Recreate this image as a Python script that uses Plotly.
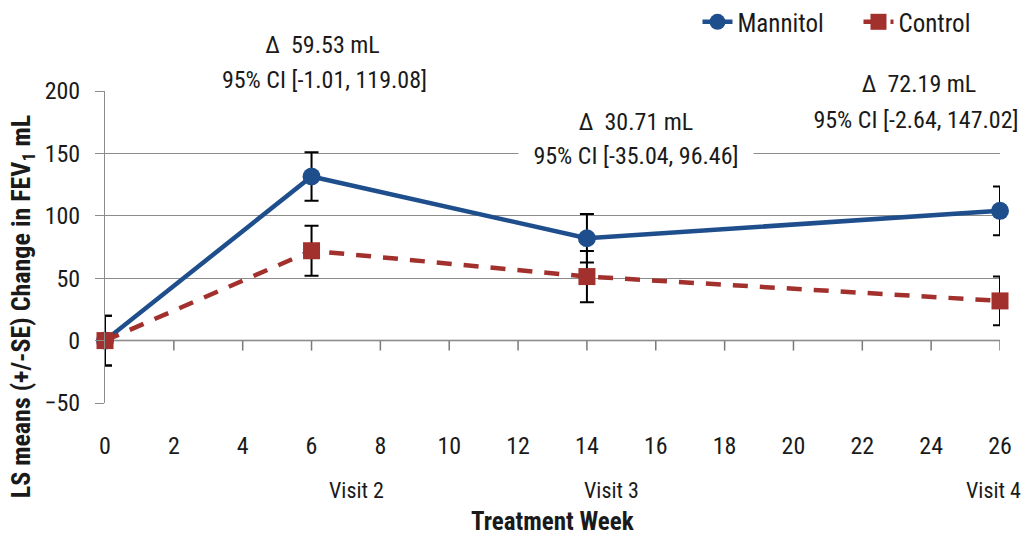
import plotly.graph_objects as go

weeks = [0, 6, 14, 26]
mannitol = [0, 131.5, 82, 104]
mannitol_se = [20, 19.5, 19.5, 19.5]
control = [0, 72, 51.3, 31.8]
control_se = [20, 20, 20.5, 19.5]

x_ticks = list(range(0, 27, 2))
y_ticks = [-50, 0, 50, 100, 150, 200]
visits = ["Visit 2", "Visit 3", "Visit 4"]
visit_pos = [7.3, 14.7, 25.8]

deltas = ["Δ  59.53 mL", "Δ  30.71 mL", "Δ  72.19 mL"]
cis = ["95% CI [-1.01, 119.08]", "95% CI [-35.04, 96.46]", "95% CI [-2.64, 147.02]"]
delta_pos = [(0.2425, 1.147), (0.593, 0.901), (0.909, 1.022)]
ci_pos = [(0.2458, 1.035), (0.593, 0.792), (0.906, 0.907)]
box_w = [255, 232, 222]

FONT = "Roboto Condensed, Carlito, sans-serif"
BLUE = "#1F4E8D"
RED = "#A2302C"
GRID = "#8C8C8C"
TXT = "#1a1a1a"

fig = go.Figure()
fig.add_trace(go.Scatter(
    x=weeks, y=mannitol, name="Mannitol", mode="lines+markers",
    line=dict(color=BLUE, width=4.5),
    marker=dict(symbol="circle", size=18, color=BLUE),
    error_y=dict(type="data", array=mannitol_se, color="black", thickness=2, width=7),
    cliponaxis=False,
))
fig.add_trace(go.Scatter(
    x=weeks, y=control, name="Control", mode="lines+markers",
    line=dict(color=RED, width=4.5, dash="15px,12px"),
    marker=dict(symbol="square", size=17, color=RED),
    error_y=dict(type="data", array=control_se, color="black", thickness=2, width=7),
    cliponaxis=False,
))

shapes = [dict(type="line", xref="x", yref="y", x0=0, x1=26, y0=0, y1=0,
               line=dict(color="#7a7a7a", width=1.5), layer="below")]
for t in x_ticks:
    shapes.append(dict(type="line", xref="x", yref="y", x0=t, x1=t, y0=0, y1=-8,
                       line=dict(color="#7a7a7a", width=1.5), layer="below"))

annotations = []
for v, p in zip(visits, visit_pos):
    annotations.append(dict(text=v, x=p, xref="x", y=-0.279, yref="paper",
                            xanchor="center", yanchor="middle", showarrow=False,
                            font=dict(size=22, family=FONT, color=TXT)))
for t, (xx, yy), w in zip(deltas, delta_pos, box_w):
    annotations.append(dict(text=t, x=xx, y=yy, xref="paper", yref="paper", showarrow=False,
                            xanchor="center", yanchor="middle",
                            bgcolor="white", width=w, height=30,
                            font=dict(size=24, family=FONT, color=TXT)))
for t, (xx, yy), w in zip(cis, ci_pos, box_w):
    annotations.append(dict(text=t, x=xx, y=yy, xref="paper", yref="paper", showarrow=False,
                            xanchor="center", yanchor="middle",
                            bgcolor="white", width=w, height=30,
                            font=dict(size=24, family=FONT, color=TXT)))
annotations.append(dict(text="<b>Treatment Week</b>", x=0.5, y=-0.381, xref="paper", yref="paper",
                        xanchor="center", yanchor="middle",
                        showarrow=False, font=dict(size=25, family=FONT, color=TXT)))
annotations.append(dict(text="<b>LS means (+/-SE) Change in FEV<sub>1</sub> mL</b>", x=-0.0927, y=0.31,
                        xref="paper", yref="paper", textangle=-90, showarrow=False,
                        xanchor="center", yanchor="middle",
                        font=dict(size=26, family=FONT, color=TXT)))

fig.update_layout(
    width=1026, height=537,
    margin=dict(l=105, r=26, t=91, b=134, autoexpand=False),
    paper_bgcolor="white", plot_bgcolor="white",
    font=dict(family=FONT, size=24, color=TXT),
    showlegend=True,
    legend=dict(orientation="h", x=0.662, xanchor="left", y=1.221, yanchor="middle",
                entrywidth=116, font=dict(size=25, family=FONT, color=TXT),
                bgcolor="rgba(0,0,0,0)"),
    xaxis=dict(range=[0, 26], tickvals=x_ticks, showgrid=False, zeroline=False,
               showline=False, ticks="", ticklabelstandoff=26,
               tickfont=dict(size=24, family=FONT, color=TXT)),
    yaxis=dict(range=[-50, 200], tickvals=y_ticks, showgrid=True, gridcolor=GRID, gridwidth=1,
               zeroline=False, showline=True, linecolor=GRID, linewidth=1,
               ticks="outside", ticklen=9, tickcolor=GRID, ticklabelstandoff=10,
               tickfont=dict(size=24, family=FONT, color=TXT)),
    shapes=shapes,
    annotations=annotations,
)
fig.write_html("out.html")
